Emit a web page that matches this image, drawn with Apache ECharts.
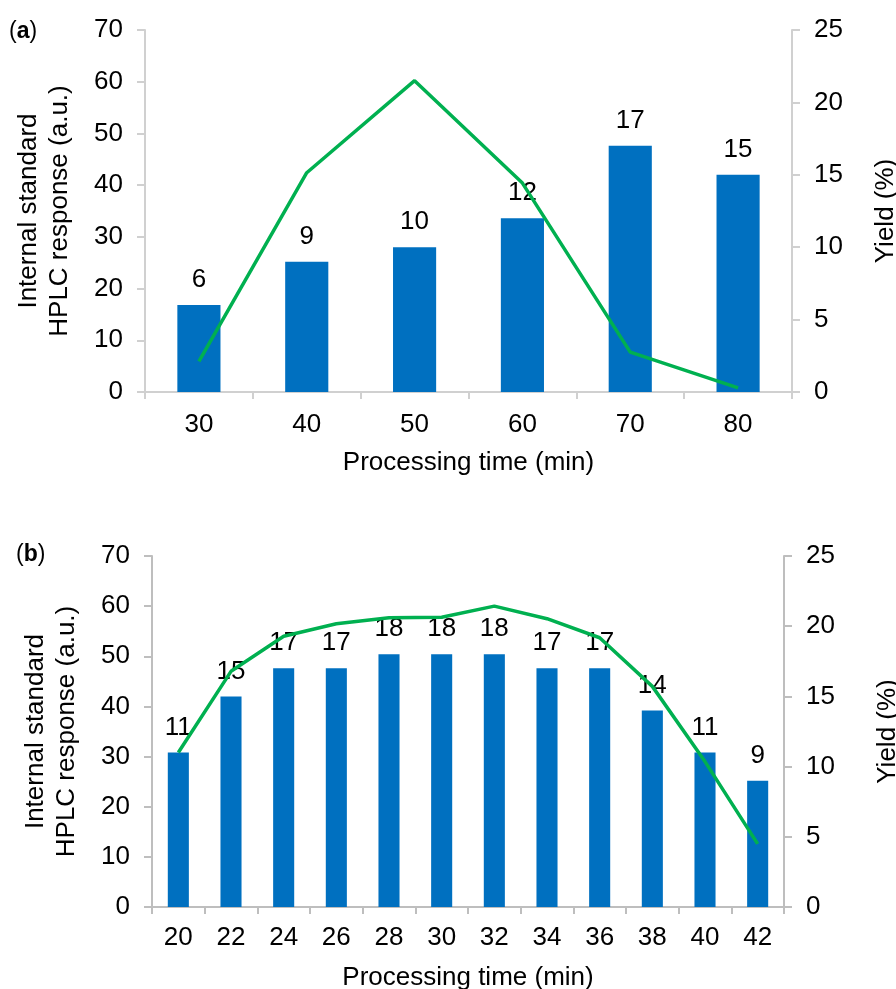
<!DOCTYPE html>
<html>
<head>
<meta charset="utf-8">
<script src="https://cdn.jsdelivr.net/npm/echarts@6/dist/echarts.min.js"></script>
<style>
  html, body { margin: 0; padding: 0; background: #fff; }
  #chart { width: 896px; height: 989px; }
</style>
</head>
<body>
<div id="chart"></div>
<script>
// Panel (a): processing time 30–80 min
const timesA = ['30', '40', '50', '60', '70', '80'];
const yieldA = [6, 9, 10, 12, 17, 15];
const responseA = [5.9, 42.4, 60.2, 40.4, 7.7, 0.8];

// Panel (b): processing time 20–42 min
const timesB = ['20', '22', '24', '26', '28', '30', '32', '34', '36', '38', '40', '42'];
const yieldB = [11, 15, 17, 17, 18, 18, 18, 17, 17, 14, 11, 9];
const responseB = [30.8, 47, 54, 56.5, 57.7, 57.8, 60.0, 57.5, 53.7, 44, 29, 12.6];

const FONT = "'Liberation Sans', Arial, sans-serif";
const BAR_COLOR = '#0070C0';
const LINE_COLOR = '#00B050';
const TICK_FONT = 26;
const NAME_FONT = 26;

function xAxisFor(gridIndex, data, lineColor, labelMargin) {
  return {
    type: 'category',
    gridIndex: gridIndex,
    data: data,
    boundaryGap: true,
    axisLine: { show: true, lineStyle: { color: lineColor, width: 2 } },
    axisTick: { show: true, length: 7, lineStyle: { color: lineColor, width: 2 } },
    axisLabel: { color: '#000', fontSize: TICK_FONT, fontFamily: FONT, margin: labelMargin },
    name: 'Processing time (min)',
    nameLocation: 'middle',
    nameGap: 58,
    nameTextStyle: { color: '#000', fontSize: NAME_FONT, fontFamily: FONT },
    splitLine: { show: false }
  };
}

function yAxisFor(gridIndex, position, max, interval, name, lineColor, nameGap) {
  return {
    type: 'value',
    gridIndex: gridIndex,
    position: position,
    min: 0,
    max: max,
    interval: interval,
    axisLine: { show: true, lineStyle: { color: lineColor, width: 2 } },
    axisTick: { show: true, length: 8, lineStyle: { color: lineColor, width: 2 } },
    axisLabel: { color: '#000', fontSize: TICK_FONT, fontFamily: FONT, margin: 22 },
    splitLine: { show: false },
    name: name,
    nameLocation: 'middle',
    nameRotate: 90,
    nameGap: nameGap,
    nameTextStyle: { color: '#000', fontSize: NAME_FONT, fontFamily: FONT, lineHeight: 31 }
  };
}

function barSeries(xi, yi, data) {
  return {
    type: 'bar',
    xAxisIndex: xi,
    yAxisIndex: yi,
    data: data,
    barWidth: '40%',
    itemStyle: { color: BAR_COLOR },
    z: 2,
    label: {
      show: true,
      position: 'top',
      distance: 12,
      color: '#000',
      fontSize: TICK_FONT,
      fontFamily: FONT
    }
  };
}

function lineSeries(xi, yi, data) {
  return {
    type: 'line',
    xAxisIndex: xi,
    yAxisIndex: yi,
    data: data,
    showSymbol: false,
    symbol: 'none',
    smooth: false,
    z: 5,
    lineStyle: { color: LINE_COLOR, width: 3.5 }
  };
}

const chart = echarts.init(document.getElementById('chart'), null, { renderer: 'canvas' });

const panelTitle = (letter, left, top) => ({
  text: '({b|' + letter + '})',
  left: left, top: top,
  textStyle: { color: '#000', fontSize: 23, fontWeight: 'normal', fontFamily: FONT,
    rich: { b: { fontWeight: 'bold', fontSize: 23, fontFamily: FONT, color: '#000' } } }
});

const option = {
  backgroundColor: '#fff',
  animation: false,
  title: [panelTitle('a', 4, 15), panelTitle('b', 11, 538)],
  grid: [
    { left: 145, top: 30, width: 647, height: 362, outerBoundsMode: 'none', containLabel: false },
    { left: 152, top: 556, width: 632, height: 351, outerBoundsMode: 'none', containLabel: false }
  ],
  xAxis: [
    xAxisFor(0, timesA, '#D0D0D0', 20),
    xAxisFor(1, timesB, '#BEBEBE', 18)
  ],
  yAxis: [
    yAxisFor(0, 'left', 70, 10, 'Internal standard\nHPLC response (a.u.)', '#D0D0D0', 70),
    yAxisFor(0, 'right', 25, 5, 'Yield (%)', '#D0D0D0', 78),
    yAxisFor(1, 'left', 70, 10, 'Internal standard\nHPLC response (a.u.)', '#BEBEBE', 70),
    yAxisFor(1, 'right', 25, 5, 'Yield (%)', '#BEBEBE', 88)
  ],
  series: [
    barSeries(0, 1, yieldA),
    lineSeries(0, 0, responseA),
    barSeries(1, 3, yieldB),
    lineSeries(1, 2, responseB)
  ]
};

chart.setOption(option);
</script>
</body>
</html>
